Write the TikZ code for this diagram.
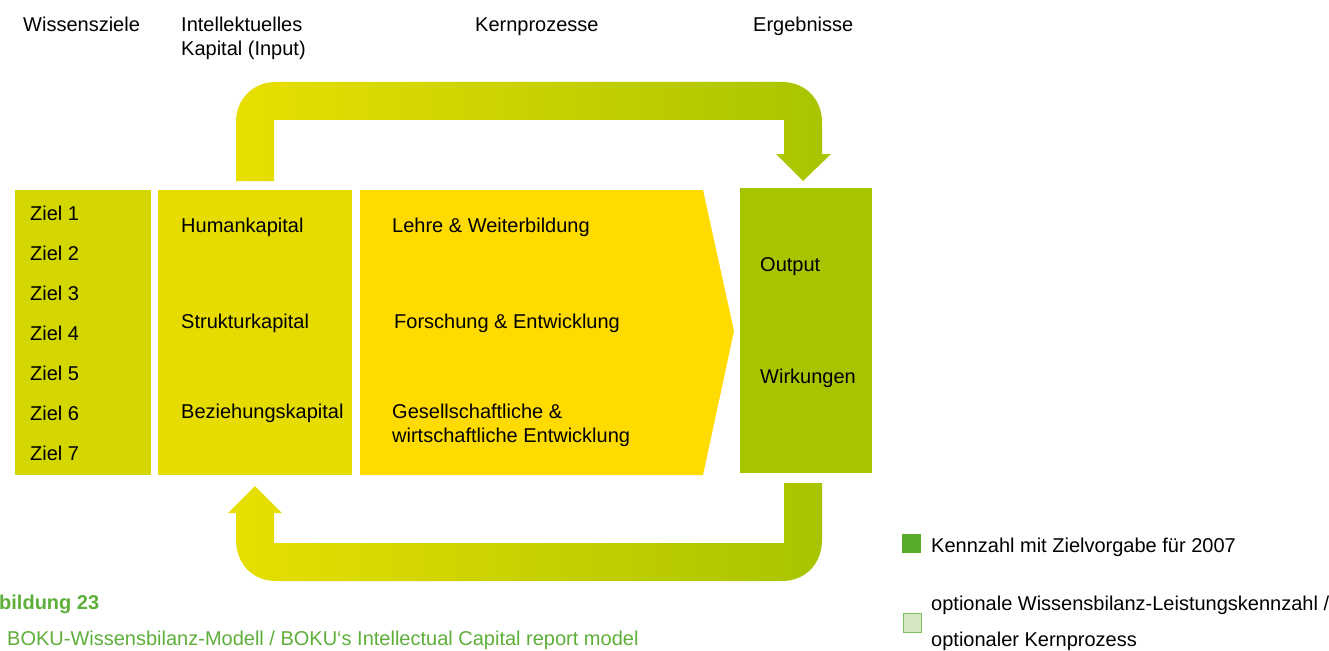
\documentclass[tikz,border=0pt]{standalone}
\usepackage{fontspec}
\setmainfont{Liberation Sans}
\definecolor{zielc}{HTML}{D4D600}
\definecolor{kapc}{HTML}{E6DC00}
\definecolor{kernc}{HTML}{FFDB00}
\definecolor{ergc}{HTML}{A8C400}
\definecolor{arrL}{HTML}{E8DF00}
\definecolor{arrR}{HTML}{A8C400}
\definecolor{capg}{HTML}{5EAF3A}
\definecolor{legg}{HTML}{58AB27}
\definecolor{legl}{HTML}{D5E6C4}
\definecolor{legb}{HTML}{7DC060}
\tikzset{
  txt/.style={anchor=base west, inner sep=0pt, font=\fontsize{20}{24}\selectfont, text=black},
  captxt/.style={txt, text=capg},
  boxr/.style={draw=none, inner sep=0pt, anchor=north west},
}
\begin{document}
\begin{tikzpicture}[x=1pt,y=-1pt]
\useasboundingbox (0,0) rectangle (1329,650);
\fill[white] (0,0) rectangle (1329,650);
% boxes
\node[boxr, fill=zielc, minimum width=136pt, minimum height=285pt] (ziel) at (15,190) {};
\node[boxr, fill=kapc, minimum width=194pt, minimum height=285pt] (kap) at (158,190) {};
\fill[kernc] (360,190) -- (703,190) -- (734,331) -- (703,475) -- (360,475) -- cycle;
\coordinate (kern) at (360,190);
\node[boxr, fill=ergc, minimum width=132pt, minimum height=285pt] (erg) at (740,188) {};
% top arrow
\shade[left color=arrL, right color=arrR]
  (236,181) -- (236,122) .. controls (236,100) and (252,82) .. (276,82)
  -- (782,82) .. controls (806,82) and (822,100) .. (822,122)
  -- (822,154) -- (831,154) -- (803,181) -- (776,154) -- (784,154)
  -- (784,120) -- (274,120) -- (274,181) -- cycle;
% bottom arrow
\shade[left color=arrL, right color=arrR]
  (784,483) -- (822,483) -- (822,540) .. controls (822,563) and (806,581) .. (782,581)
  -- (276,581) .. controls (252,581) and (236,563) .. (236,540)
  -- (236,513) -- (228,513) -- (255,486) -- (282,513) -- (274,513)
  -- (274,543) -- (784,543) -- cycle;
% headers
\node[txt] (h1) at (23,32) {Wissensziele};
\node[txt] (h2a) at (181,32) {Intellektuelles};
\node[txt] (h2b) at (181,56) {Kapital (Input)};
\node[txt] (h3) at (475,32) {Kernprozesse};
\node[txt] (h4) at (753,32) {Ergebnisse};
% ziele
\foreach \i in {1,...,7}{
  \node[txt] (z\i) at (30,{180+40*\i}) {Ziel \i};
}
% kapital
\node[txt] (k1) at (181,232) {Humankapital};
\node[txt] (k2) at (181,328) {Strukturkapital};
\node[txt] (k3) at (181,418) {Beziehungskapital};
% kern
\node[txt] (p1) at (392,232) {Lehre \& Weiterbildung};
\node[txt] (p2) at (394,328) {Forschung \& Entwicklung};
\node[txt] (p3a) at (392,418) {Gesellschaftliche \&};
\node[txt] (p3b) at (392,442) {wirtschaftliche Entwicklung};
% ergebnisse
\node[txt] (e1) at (760,271) {Output};
\node[txt] (e2) at (760,383) {Wirkungen};
% legend
\node[boxr, fill=legg, minimum width=19pt, minimum height=19pt] (lg1) at (902,534) {};
\node[txt] (lt1) at (931,552) {Kennzahl mit Zielvorgabe für 2007};
\node[boxr, fill=legl, draw=legb, line width=1pt, minimum width=18pt, minimum height=19pt] (lg2) at (902.5,612.5) {};
\node[txt] (lt2) at (931,610) {optionale Wissensbilanz-Leistungskennzahl /};
\node[txt] (lt3) at (931,646) {optionaler Kernprozess};
% caption
\node[captxt, font=\fontsize{20}{24}\selectfont\bfseries] (c1) at (-1,609) {bildung 23};
\node[captxt] (c2) at (7,645) {BOKU-Wissensbilanz-Modell / BOKU‘s Intellectual Capital report model};
\end{tikzpicture}
\end{document}
